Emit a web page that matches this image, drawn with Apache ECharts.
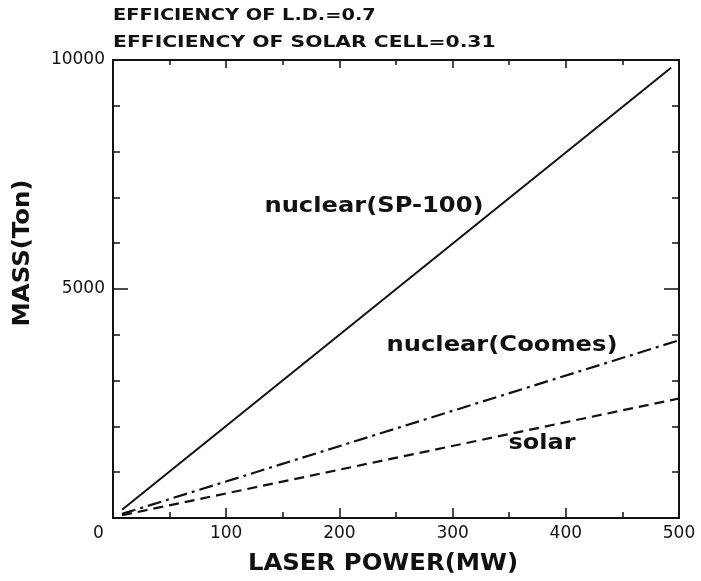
<!DOCTYPE html>
<html>
<head>
<meta charset="utf-8">
<script src="https://cdn.jsdelivr.net/npm/echarts@6/dist/echarts.min.js"></script>
<style>
  html, body { margin: 0; padding: 0; background: #fff; }
  #chart { width: 701px; height: 581px; }
</style>
</head>
<body>
<div id="chart"></div>
<script>
// Laser power (MW) vs. system mass (ton) for three power sources
const powerSP100 = [8, 493];
const massSP100 = [180, 9830];
const powerCoomes = [8, 500];
const massCoomes = [90, 3880];
const powerSolar = [8, 500];
const massSolar = [60, 2610];

const xTicks = [0, 100, 200, 300, 400, 500];
const yTickLabels = [5000, 10000];

const titleLines = ['EFFICIENCY OF L.D.=0.7', 'EFFICIENCY OF SOLAR CELL=0.31'];
const seriesNames = ['nuclear(SP-100)', 'nuclear(Coomes)', 'solar'];

const FONT = '"DejaVu Sans", "Liberation Sans", sans-serif';
const INK = '#111';

function pairs(xs, ys) { return xs.map((x, i) => [x, ys[i]]); }

const chart = echarts.init(document.getElementById('chart'));

const tickCommon = {
  axisLine: { show: true, onZero: false, lineStyle: { color: INK, width: 2 } },
  splitLine: { show: false }
};

// wide-set bold text, stretched horizontally along its baseline
function label(text, x, y, size, sx, rot) {
  return {
    type: 'text', x: x, y: y, scaleX: sx, rotation: rot || 0,
    style: { text: text, font: 'bold ' + size + 'px ' + FONT, fill: INK, align: 'center', verticalAlign: 'middle' }
  };
}
function leftLabel(text, x, y, size, sx) {
  return {
    type: 'text', x: x, y: y, scaleX: sx,
    style: { text: text, font: 'bold ' + size + 'px ' + FONT, fill: INK, align: 'left', verticalAlign: 'middle' }
  };
}

chart.setOption({
  animation: false,
  backgroundColor: '#fff',
  grid: { left: 113, top: 60, right: 22, bottom: 63 },
  xAxis: [
    Object.assign({
      type: 'value', min: 0, max: 500, interval: 100, position: 'bottom',
      axisTick: { show: true, inside: true, length: 10, lineStyle: { color: INK, width: 1.5 } },
      minorTick: { show: true, splitNumber: 2, length: 6, lineStyle: { color: INK, width: 1.5 } },
      axisLabel: {
        show: true, margin: 7, color: INK, fontFamily: FONT, fontSize: 17,
        formatter: v => v === 0 ? '{z|0}' : (xTicks.indexOf(v) >= 0 ? String(v) : ''),
        rich: { z: { fontFamily: FONT, fontSize: 17, color: INK, padding: [0, 29, 0, 0] } }
      }
    }, tickCommon),
    Object.assign({
      type: 'value', min: 0, max: 500, interval: 100, position: 'top',
      axisTick: { show: true, inside: true, length: 8, lineStyle: { color: INK, width: 1.5 } },
      minorTick: { show: true, splitNumber: 2, length: 5, lineStyle: { color: INK, width: 1.5 } },
      axisLabel: { show: false }
    }, tickCommon)
  ],
  yAxis: [
    Object.assign({
      type: 'value', min: 0, max: 10000, interval: 5000, position: 'left',
      axisTick: { show: true, inside: true, length: 15, lineStyle: { color: INK, width: 1.5 } },
      minorTick: { show: true, splitNumber: 5, length: 7, lineStyle: { color: INK, width: 1.5 } },
      axisLabel: {
        show: true, margin: 8, color: INK, fontFamily: FONT, fontSize: 17,
        formatter: v => yTickLabels.indexOf(v) >= 0 ? String(v) : ''
      }
    }, tickCommon),
    Object.assign({
      type: 'value', min: 0, max: 10000, interval: 5000, position: 'right',
      axisTick: { show: true, inside: true, length: 15, lineStyle: { color: INK, width: 1.5 } },
      minorTick: { show: true, splitNumber: 5, length: 7, lineStyle: { color: INK, width: 1.5 } },
      axisLabel: { show: false }
    }, tickCommon)
  ],
  series: [
    {
      name: seriesNames[0], type: 'line', showSymbol: false, symbol: 'none',
      data: pairs(powerSP100, massSP100),
      lineStyle: { color: INK, width: 2, type: 'solid' }
    },
    {
      name: seriesNames[1], type: 'line', showSymbol: false, symbol: 'none',
      data: pairs(powerCoomes, massCoomes),
      lineStyle: { color: INK, width: 2.2, type: [14, 5, 3, 5] }
    },
    {
      name: seriesNames[2], type: 'line', showSymbol: false, symbol: 'none',
      data: pairs(powerSolar, massSolar),
      lineStyle: { color: INK, width: 2.2, type: [10, 6] }
    }
  ],
  graphic: [
    leftLabel(titleLines[0], 113, 16, 16, 1.21),
    leftLabel(titleLines[1], 113, 43, 16, 1.27),
    label(seriesNames[0], 374, 206, 22, 1.10),
    label(seriesNames[1], 502, 345, 22, 1.10),
    label(seriesNames[2], 542, 443, 22, 1.09),
    label('MASS(Ton)', 23, 253, 23, 1.06, Math.PI / 2),
    label('LASER POWER(MW)', 383, 564, 23, 1.06)
  ]
});
</script>
</body>
</html>
